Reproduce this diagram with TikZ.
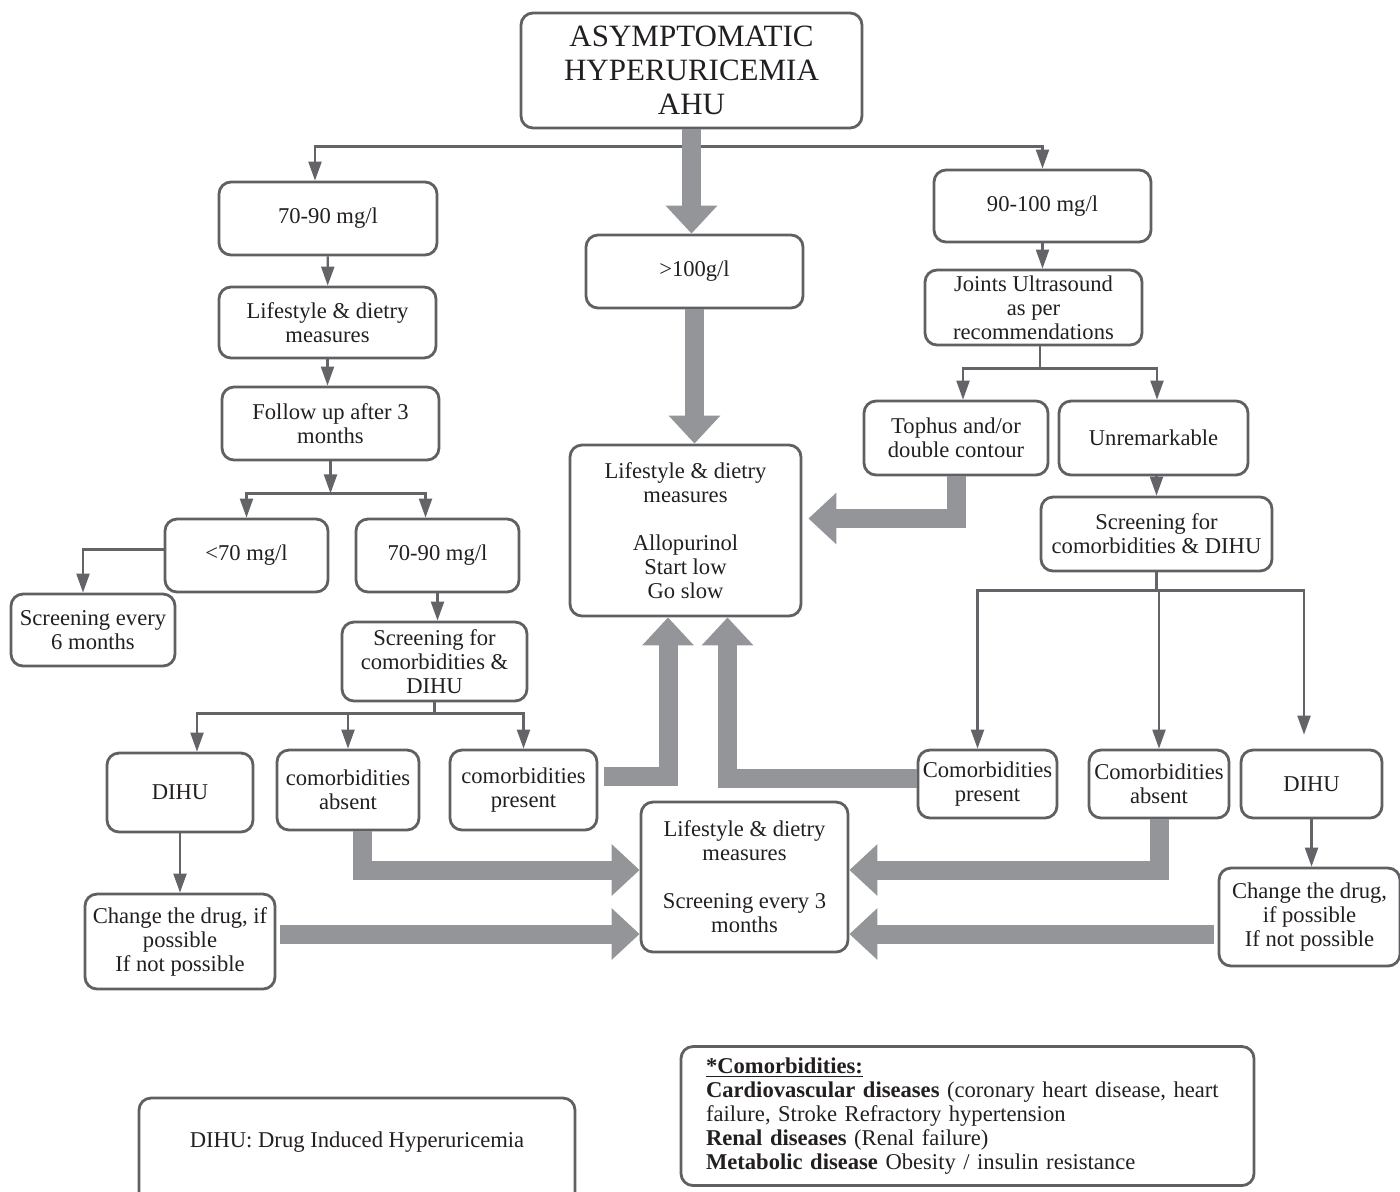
\documentclass[tikz,border=0pt]{standalone}
\usepackage{fontspec}
\setmainfont{Liberation Serif}
\usepackage{tikz}
\usetikzlibrary{arrows.meta}

\definecolor{boxgray}{RGB}{95,96,100}
\definecolor{linkgray}{RGB}{99,100,104}
\definecolor{thickgray}{RGB}{147,149,152}
\definecolor{textblack}{RGB}{35,31,32}

\begin{document}
\begin{tikzpicture}[
		x=0.5pt, y=-0.5pt,
		flow-text/.style={text=textblack, font=\fontsize{11.3}{12}\selectfont},
		flow-box/.style={flow-text, draw=boxgray, line width=1.4pt, rounded corners=6pt,
		align=center, inner sep=0pt},
		title-box/.style={flow-box, font=\fontsize{15.5}{17}\selectfont},
		box-size/.style 2 args={minimum width=#1*\px, minimum height=#2*\px},
		flow-line/.style={draw=linkgray, line width=1.1pt},
		flow-link/.style={flow-line, -{Triangle[width=6.5pt,length=9.5pt]}},
		flow-thick/.style={draw=thickgray, line width=9.5pt, -{Triangle[width=25pt,length=14pt]}},
		]

		\def\px{0.5pt}

		\useasboundingbox (0,0) rectangle (1400,1191);

		\node[title-box, box-size={341}{115}] (ahu) at (691.5,70.5) {ASYMPTOMATIC\\HYPERURICEMIA\\AHU};

		% left column
		\node[flow-box, box-size={218}{73}] (mild)     at (328,218.5)   {70-90 mg/l};
		\node[flow-box, box-size={217}{71}] (lifeA)    at (327.5,322.5) {Lifestyle \& dietry\\measures};
		\node[flow-box, box-size={217}{73}] (follow)   at (330.5,423.5) {Follow up after 3\\months};
		\node[flow-box, box-size={163}{73}] (low)      at (246.5,555.5) {<70 mg/l};
		\node[flow-box, box-size={163}{73}] (midL)     at (437.5,555.5) {70-90 mg/l};
		\node[flow-box, box-size={164}{72}] (screen6)  at (93,630)      {Screening every\\6 months};
		\node[flow-box, box-size={185}{79}] (screenL)  at (434.5,661.5) {Screening for\\comorbidities \&\\DIHU};
		\node[flow-box, box-size={146}{79}] (dihuL)    at (180,792.5)   {DIHU};
		\node[flow-box, box-size={142}{80}] (absentL)  at (348,790)     {comorbidities\\absent};
		\node[flow-box, box-size={147}{80}] (presentL) at (523.5,790)   {comorbidities\\present};
		\node[flow-box, box-size={190}{95}] (changeL)  at (180,941.5)   {Change the drug, if\\possible\\If not possible};

		% middle column
		\node[flow-box, box-size={217}{73}]  (high)    at (694.5,271.5) {>100g/l};
		\node[flow-box, box-size={231}{171}] (allo)    at (685.5,530.5)
		{Lifestyle \& dietry\\measures\\[12pt]Allopurinol\\Start low\\Go slow};
		\node[flow-box, box-size={207}{150}] (follow3) at (744.5,877)
		{Lifestyle \& dietry\\measures\\[12pt]Screening every 3\\months};

		% right column
		\node[flow-box, box-size={217}{72}] (moderate) at (1042.5,206)  {90-100 mg/l};
		\node[flow-box, box-size={217}{75}] (ultra)    at (1033.5,307.5) {Joints Ultrasound\\as per\\recommendations};
		\node[flow-box, box-size={184}{74}] (tophus)   at (956,438)     {Tophus and/or\\double contour};
		\node[flow-box, box-size={189}{74}] (unrem)    at (1153.5,438)  {Unremarkable};
		\node[flow-box, box-size={231}{74}] (screenR)  at (1156.5,534)  {Screening for\\comorbidities \& DIHU};
		\node[flow-box, box-size={139}{68}] (presentR) at (987.5,784)   {Comorbidities\\present};
		\node[flow-box, box-size={140}{68}] (absentR)  at (1159,784)    {Comorbidities\\absent};
		\node[flow-box, box-size={141}{68}] (dihuR)    at (1311.5,784)  {DIHU};
		\node[flow-box, box-size={181}{98}] (changeR)  at (1309.5,917)  {Change the drug,\\if possible\\If not possible};

		% legends
		\node[flow-box, box-size={436}{120}] (legend-dihu) at (357,1158) {};
		\node[flow-text] (legend-dihu-text) at (357,1142) {DIHU: Drug Induced Hyperuricemia};
		\node[flow-box, box-size={573}{139}, align=left, text width=261.5pt, inner xsep=12.5pt]
		(legend-comorb) at (967.5,1116)
		{\underline{\textbf{*Comorbidities:}}\\
			\textbf{Cardiovascular diseases} (coronary heart disease, heart\\
			failure, Stroke Refractory hypertension\\
			\textbf{Renal diseases} (Renal failure)\\
			\textbf{Metabolic disease} Obesity / insulin resistance};

		% thin connectors
		\draw[flow-link] ([yshift=-8.5pt]ahu.south) -| ([xshift=-6.5pt]mild.north);
		\draw[flow-link] ([yshift=-8.5pt]ahu.south) -| (moderate.north);

		\draw[flow-link] (mild) -- (lifeA);
		\draw[flow-link] (lifeA.south) -- (lifeA.south |- follow.north);
		\coordinate (follow-split) at ([yshift=-16pt]follow.south);
		\draw[flow-link] (follow) -- (follow-split);
		\draw[flow-link] (follow-split) -| (low.north);
		\draw[flow-link] (follow-split) -| ([xshift=-6pt]midL.north);
		\draw[flow-link] ([yshift=3pt]low.west) -| ([xshift=-5pt]screen6.north);
		\draw[flow-link] (midL.south) -- (midL.south |- screenL.north);
		\coordinate (screenL-split) at ([yshift=-5.5pt]screenL.south);
		\draw[flow-line] (screenL.south) -- (screenL-split);
		\draw[flow-link] (screenL-split) -| ([xshift=8.5pt]dihuL.north);
		\draw[flow-link] (screenL-split) -| (absentL.north);
		\draw[flow-link] (screenL-split) -| (presentL.north);
		\draw[flow-link] (dihuL) -- (changeL);

		\draw[flow-link] (moderate.south) -- (moderate.south |- ultra.north);
		\coordinate (ultra-split) at ([xshift=3.25pt,yshift=-11pt]ultra.south);
		\draw[flow-line] (ultra.south -| ultra-split) -- (ultra-split);
		\draw[flow-link] (ultra-split) -| ([xshift=3.5pt]tophus.north);
		\draw[flow-link] (ultra-split) -| ([xshift=1.75pt]unrem.north);
		\draw[flow-link] (screenR.north |- unrem.south) -- (screenR.north);
		\coordinate (screenR-split) at ([yshift=-9pt]screenR.south);
		\draw[flow-line] (screenR.south) -- (screenR-split);
		\draw[flow-link] (screenR-split) -| ([xshift=-5pt]presentR.north);
		\draw[flow-link] (screenR-split) -| (absentR.north);
		\draw[flow-link, shorten >=7pt] (screenR-split) -| ([xshift=-3.75pt]dihuR.north);
		\draw[flow-link] (dihuR.south) -- (dihuR.south |- changeR.north);

		% thick connectors
		\draw[flow-thick] (ahu.south) -- (ahu.south |- high.north);
		\draw[flow-thick] (high.south) -- (high.south |- allo.north);
		\draw[flow-thick, shorten >=3pt] (tophus.south) |- ([yshift=6pt]allo.east);
		\draw[flow-thick, shorten <=3pt] ([yshift=7pt]presentL.east) -| ([xshift=-8.75pt]allo.south);
		\draw[flow-thick] ([yshift=3pt]presentR.west) -| ([xshift=21pt]allo.south);

		\coordinate (follow3-in-l) at ([yshift=-28.5pt]follow3.west);
		\coordinate (follow3-in-r) at ([yshift=-28.5pt]follow3.east);
		\draw[flow-thick] ([xshift=7pt]absentL.south) |- ([yshift=3.5pt]follow3.west);
		\draw[flow-thick, shorten <=2pt] (changeL.east |- follow3-in-l) -- (follow3-in-l);
		\draw[flow-thick] (absentR.south) |- ([yshift=3.5pt]follow3.east);
		\draw[flow-thick, shorten <=2pt] (changeR.west |- follow3-in-r) -- (follow3-in-r);

	\end{tikzpicture}
\end{document}
